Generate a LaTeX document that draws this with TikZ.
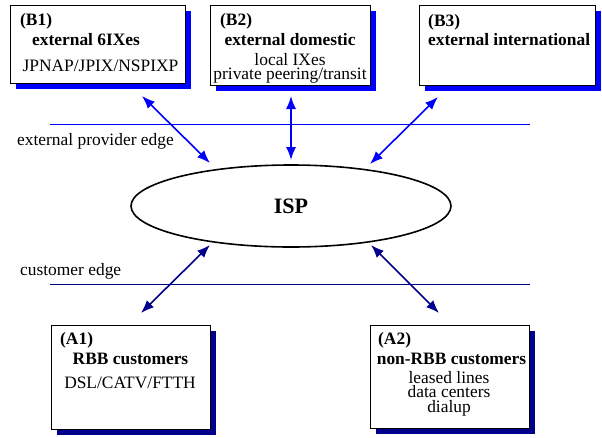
\documentclass[tikz,border=0pt]{standalone}
\usepackage{fontspec}
\setmainfont{Liberation Serif}
\usetikzlibrary{arrows.meta,shadows,shapes.geometric}
\definecolor{navyc}{RGB}{0,0,140}
\definecolor{bluec}{RGB}{0,0,255}
\newcommand\dfont{\fontsize{17.4}{15}\selectfont}
\begin{document}
\begin{tikzpicture}[x=1pt,y=-1pt,
  box/.style={draw=black, line width=0.8pt, fill=white, inner sep=0pt, anchor=north west},
  bshadow/.style={drop shadow={fill=bluec, opacity=1, shadow xshift=6pt, shadow yshift=-6pt}},
  ashadow/.style={drop shadow={fill=navyc, opacity=1, shadow xshift=6pt, shadow yshift=-6pt}},
  lbl/.style={inner sep=0pt, font=\dfont, anchor=base west},
  lblc/.style={inner sep=0pt, font=\dfont, anchor=base},
  hd/.style={inner sep=0pt, font=\dfont\bfseries, anchor=base west},
  hdc/.style={inner sep=0pt, font=\dfont\bfseries, anchor=base},
  barrow/.style={{Latex[length=13pt,width=10pt]}-{Latex[length=13pt,width=10pt]}, line width=1.6pt, draw=bluec},
  narrow/.style={{Latex[length=13pt,width=10pt]}-{Latex[length=13pt,width=10pt]}, line width=1.6pt, draw=navyc},
  edgeline/.style={line width=1pt}
]
\useasboundingbox (0,0) rectangle (602,437);

% boxes
\node[box, bshadow, minimum width=175pt, minimum height=78pt] (b1) at (10,5) {};
\node[box, bshadow, minimum width=160pt, minimum height=80pt] (b2) at (210,5) {};
\node[box, bshadow, minimum width=176pt, minimum height=80pt] (b3) at (419,5) {};
\node[box, ashadow, minimum width=159pt, minimum height=104pt] (a1) at (51,325) {};
\node[box, ashadow, minimum width=159pt, minimum height=103pt] (a2) at (370,325) {};

% box texts
\node[hd] (b1h) at (20,25) {(B1)};
\node[hd] (b1t) at (32,45) {external 6IXes};
\node[lblc] (b1s) at (100.5,71) {JPNAP/JPIX/NSPIXP};

\node[hd] (b2h) at (220,25) {(B2)};
\node[hdc] (b2t) at (290,45) {external domestic};
\node[lblc] (b2s1) at (290,65) {local IXes};
\node[lblc] (b2s2) at (290,79) {private peering/transit};

\node[hd] (b3h) at (428,26) {(B3)};
\node[hd] (b3t) at (428,45) {external international};

\node[hd] (a1h) at (60,344) {(A1)};
\node[hdc] (a1t) at (130.5,364) {RBB customers};
\node[lblc] (a1s) at (130,388) {DSL/CATV/FTTH};

\node[hd] (a2h) at (378,344) {(A2)};
\node[hdc] (a2t) at (451.5,364) {non-RBB customers};
\node[lblc] (a2s1) at (449,383) {leased lines};
\node[lblc] (a2s2) at (449,397) {data centers};
\node[lblc] (a2s3) at (449,412) {dialup};

% edges
\coordinate (e1l) at (50,124);
\coordinate (e1r) at (530,124);
\coordinate (e2l) at (50,284);
\coordinate (e2r) at (530,284);
\draw[edgeline, draw=bluec] (e1l) -- (e1r);
\draw[edgeline, draw=navyc] (e2l) -- (e2r);
\node[lbl] (epe) at (17,145) {external provider edge};
\node[lbl] (ce) at (20,275) {customer edge};

% ISP
\node[draw, ellipse, line width=1.6pt, minimum width=320pt, minimum height=82pt, inner sep=0pt,
      font=\fontsize{22}{24}\selectfont\bfseries] (isp) at (291,206) {ISP};

% arrow endpoints
\coordinate (p1a) at (142,96);  \coordinate (p1b) at (210,163);
\coordinate (p2a) at (291,96);  \coordinate (p2b) at (291,160);
\coordinate (p3a) at (438,97);  \coordinate (p3b) at (370,164);
\coordinate (q1a) at (210,245); \coordinate (q1b) at (141,313);
\coordinate (q2a) at (371,245); \coordinate (q2b) at (439,313);

\draw[barrow] (p1a) -- (p1b);
\draw[barrow] (p2a) -- (p2b);
\draw[barrow] (p3a) -- (p3b);
\draw[narrow] (q1a) -- (q1b);
\draw[narrow] (q2a) -- (q2b);
\end{tikzpicture}
\end{document}
